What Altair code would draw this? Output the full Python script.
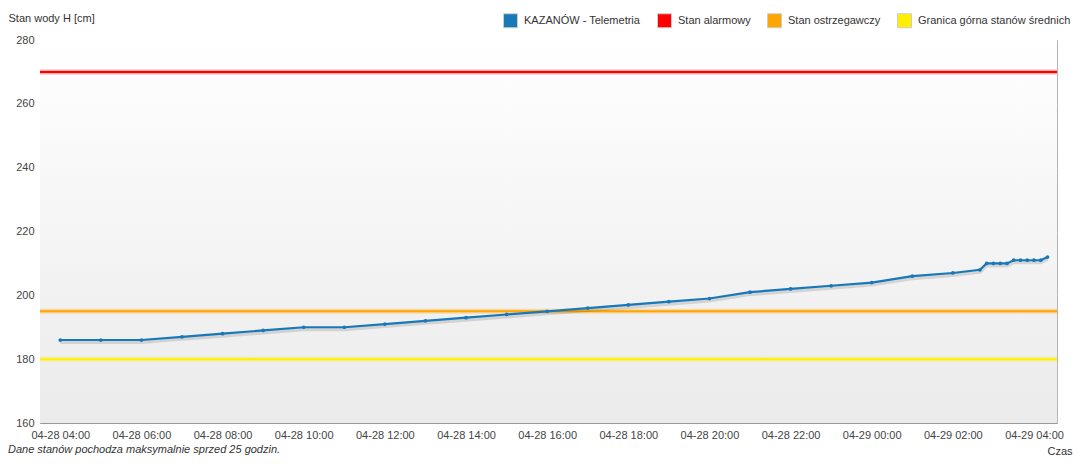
import altair as alt
import pandas as pd

FONT = "Liberation Sans"

times = [
    "2024-04-28T04:00", "2024-04-28T05:00", "2024-04-28T06:00", "2024-04-28T07:00",
    "2024-04-28T08:00", "2024-04-28T09:00", "2024-04-28T10:00", "2024-04-28T11:00",
    "2024-04-28T12:00", "2024-04-28T13:00", "2024-04-28T14:00", "2024-04-28T15:00",
    "2024-04-28T16:00", "2024-04-28T17:00", "2024-04-28T18:00", "2024-04-28T19:00",
    "2024-04-28T20:00", "2024-04-28T21:00", "2024-04-28T22:00", "2024-04-28T23:00",
    "2024-04-29T00:00", "2024-04-29T01:00", "2024-04-29T02:00", "2024-04-29T02:40",
    "2024-04-29T02:50", "2024-04-29T03:00", "2024-04-29T03:10", "2024-04-29T03:20",
    "2024-04-29T03:30", "2024-04-29T03:40", "2024-04-29T03:50", "2024-04-29T04:00",
    "2024-04-29T04:10", "2024-04-29T04:20",
]
levels = [
    186, 186, 186, 187, 188, 189, 190, 190, 191, 192, 193, 194, 195, 196, 197, 198,
    199, 201, 202, 203, 204, 206, 207, 208, 210, 210, 210, 210, 211, 211, 211, 211,
    211, 212,
]

series_names = ["KAZANÓW - Telemetria", "Stan alarmowy", "Stan ostrzegawczy",
                "Granica górna stanów średnich"]
series_colors = ["#1878b8", "#ff0000", "#ffa500", "#ffee00"]
threshold_names = ["Stan alarmowy", "Stan ostrzegawczy", "Granica górna stanów średnich"]
threshold_values = [270, 195, 180]

# x-axis tick hours (every 2 h), as (day, hour)
tick_days = [28] * 10 + [29] * 3
tick_hours = [4, 6, 8, 10, 12, 14, 16, 18, 20, 22, 0, 2, 4]

x_start = alt.DateTime(year=2024, month=4, date=28, hours=3, minutes=30)
x_end = alt.DateTime(year=2024, month=4, date=29, hours=4, minutes=34)
y_domain = [160, 280]

W, H = 1017, 383

df = pd.DataFrame({"t": times, "h": levels, "s": series_names[0]})
thr = pd.DataFrame({"s": threshold_names, "h": threshold_values})
leg = pd.DataFrame({"s": series_names})

color_scale = alt.Scale(domain=series_names, range=series_colors)
tick_vals = [alt.DateTime(year=2024, month=4, date=d, hours=h)
             for d, h in zip(tick_days, tick_hours)]

xenc = alt.X("t:T", scale=alt.Scale(domain=[x_start, x_end]),
             axis=alt.Axis(format="%m-%d %H:%M", values=tick_vals,
                           title="Czas", titleX=1007, titleY=28, titleAlign="left",
                           titleBaseline="middle", titleFontWeight="normal",
                           titleFontSize=11, titleColor="#333",
                           ticks=False, labelPadding=6, grid=True))
yenc = alt.Y("h:Q", scale=alt.Scale(domain=y_domain, nice=False),
             axis=alt.Axis(values=[160, 180, 200, 220, 240, 260, 280],
                           title="Stan wody H [cm]", titleAngle=0, titleX=-32, titleY=-22,
                           titleAlign="left", titleBaseline="middle",
                           titleFontWeight="normal", titleFontSize=11, titleColor="#333",
                           ticks=False, labelPadding=6, grid=True))

bg = alt.Chart(pd.DataFrame({"a": [0]})).mark_rect(
    fill=alt.Gradient(gradient="linear", x1=0, y1=0, x2=0, y2=1,
                      stops=[alt.GradientStop(offset=0, color="#ffffff"),
                             alt.GradientStop(offset=1, color="#ebebeb")])
).encode(x=alt.value(0), x2=alt.value(W), y=alt.value(0), y2=alt.value(H))

rule_glow = alt.Chart(thr).mark_rule(strokeWidth=5, opacity=0.3).encode(
    y=yenc, color=alt.Color("s:N", scale=color_scale, legend=None))

rule_main = alt.Chart(thr).mark_rule(strokeWidth=2).encode(
    y=yenc, color=alt.Color("s:N", scale=color_scale, legend=None))

shadow = alt.Chart(df).mark_line(color="#000000", opacity=0.12, strokeWidth=4,
                                 yOffset=2).encode(x=xenc, y=yenc)

line = alt.Chart(df).mark_line(
    strokeWidth=2.2, point=alt.OverlayMarkDef(size=14, filled=True, color="#1878b8")
).encode(x=xenc, y=yenc, color=alt.Color("s:N", scale=color_scale, legend=None))

legend = alt.Legend(title=None, orient="none", legendX=463, legendY=-27,
                    direction="horizontal", columns=4,
                    symbolType="square", symbolSize=196,
                    symbolStrokeColor="#cccccc", symbolStrokeWidth=1, symbolOpacity=1,
                    labelFont=FONT, labelFontSize=11, labelColor="#333",
                    labelOffset=6, columnPadding=14)

legend_layer = alt.Chart(leg).mark_point(filled=True, opacity=0, size=1).encode(
    color=alt.Color("s:N", scale=color_scale, legend=legend))

chart = alt.layer(bg, rule_glow, rule_main, shadow, line, legend_layer).resolve_scale(
    color="independent"
).properties(
    width=W, height=H,
    autosize=alt.AutoSizeParams(type="none"),
    padding={"left": 32, "top": 32, "right": 16, "bottom": 33},
    title=alt.TitleParams("Dane stanów pochodza maksymalnie sprzed 25 godzin.",
                          orient="bottom", anchor="start", dx=0, dy=-15, offset=3,
                          font=FONT, fontSize=11, fontStyle="italic",
                          fontWeight="normal", color="#333"),
).configure_view(stroke="#b5b5b5", strokeWidth=1).configure_axis(
    labelFont=FONT, labelFontSize=11, labelColor="#444", titleFont=FONT,
    gridColor="#dcdcdc", domainColor="#999999", domainWidth=1
)

chart.save("out.html", embed_options={"renderer": "svg", "actions": False})
